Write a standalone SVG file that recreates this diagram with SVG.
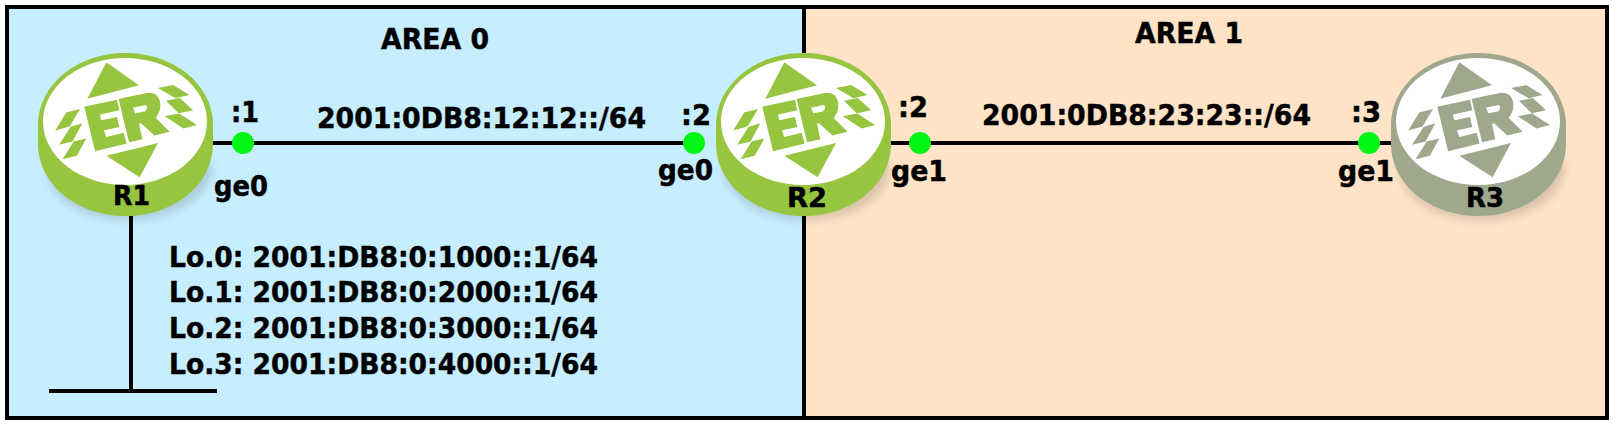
<svg xmlns="http://www.w3.org/2000/svg" width="1617" height="428" viewBox="0 0 1617 428">
<style>
text{font-family:"DejaVu Sans",Verdana,sans-serif;font-weight:700;font-size:28px;fill:#000;stroke:#000;stroke-width:.5}
.r{font-size:26px}
.dot{fill:#00f713}
.ln{stroke:#000;stroke-width:4;fill:none}
.g1{--c:#97c540}
.g2{--c:#9fa88c}
.body{fill:var(--c)}
.er{fill:var(--c);stroke:var(--c);stroke-width:5}
</style>
<defs>
<filter id="sh" x="-20%" y="-20%" width="140%" height="140%"><feGaussianBlur stdDeviation="4"/></filter>
<g id="router">
<path d="M8 110 C8 148 48 167 90 167 S174 148 174 110Z" fill="#333" opacity=".18" filter="url(#sh)"/>
<path class="body" d="M0 72C0 32 39 0 87.500 0S175 32 175 72V91C175 131 136 163 87.500 163S0 131 0 91Z"/>
<ellipse cx="87" cy="68.500" rx="82" ry="63.500" fill="#fff"/>
<g transform="scale(.33333) translate(-55 -70)">
<path class="body" d="M260 98 358 167 203 207ZM415 340 260 378 360 443Z"/>
<path class="er" d="M142 250 176 242 148 288 112 298ZM154 294 183 285 157 333 124 341ZM164 337 195 330 170 376 134 385Z"/>
<path class="er" d="M422 176 460 169 503 195 468 203ZM444 215 480 208 515 240 478 248ZM442 261 478 254 526 285 492 294Z"/>
<path class="er" d="M197 233 290 213 296 240 238 253 243 275 290 265 296 290 250 300 258 325 310 312 318 340 228 362Z"/>
<path class="er" fill-rule="evenodd" d="M300 210 385 192C420 190 432 230 405 265L445 305 405 315 365 278 355 280 365 327 330 335ZM337 232 345 254 375 248C388 243 388 222 375 224Z"/>
</g>
</g>
</defs>
<rect x="8" y="8" width="1601" height="412" fill="#999"/>
<rect x="7" y="7" width="797" height="411" fill="#c6eeff"/>
<rect x="804" y="7" width="803" height="411" fill="#fee3c6"/>
<path class="ln" d="M7 7H1607V418H7Z M804 7V418"/>
<g id="connectors">
<path class="ln" d="M213 143H700M891 143H1391M131 216V391M49 391H217"/>
</g>
<g id="R1" class="g1"><use href="#router" x="38" y="53"/><text class="r" x="113" y="205" textLength="37" lengthAdjust="spacingAndGlyphs">R1</text></g>
<g id="R2" class="g1"><use href="#router" x="716" y="53"/><text class="r" x="787" y="207" textLength="40" lengthAdjust="spacingAndGlyphs">R2</text></g>
<g id="R3" class="g2"><use href="#router" x="1391" y="53"/><text class="r" x="1466" y="207" textLength="38" lengthAdjust="spacingAndGlyphs">R3</text></g>
<g id="labels">
<circle class="dot" cx="243" cy="143" r="11"/><circle class="dot" cx="694" cy="143" r="11"/><circle class="dot" cx="920" cy="143" r="11"/><circle class="dot" cx="1369" cy="143" r="11"/>
<text x="381" y="49" textLength="108" lengthAdjust="spacingAndGlyphs">AREA 0</text>
<text x="1135" y="43" textLength="108" lengthAdjust="spacingAndGlyphs">AREA 1</text>
<text x="317" y="128" textLength="329" lengthAdjust="spacingAndGlyphs">2001:0DB8:12:12::/64</text>
<text x="982" y="125" textLength="329" lengthAdjust="spacingAndGlyphs">2001:0DB8:23:23::/64</text>
<text x="169" y="267" textLength="429" lengthAdjust="spacingAndGlyphs">Lo.0: 2001:DB8:0:1000::1/64</text>
<text x="169" y="302" textLength="429" lengthAdjust="spacingAndGlyphs">Lo.1: 2001:DB8:0:2000::1/64</text>
<text x="169" y="338" textLength="429" lengthAdjust="spacingAndGlyphs">Lo.2: 2001:DB8:0:3000::1/64</text>
<text x="169" y="374" textLength="429" lengthAdjust="spacingAndGlyphs">Lo.3: 2001:DB8:0:4000::1/64</text>
<text x="231" y="122" textLength="28" lengthAdjust="spacingAndGlyphs">:1</text>
<text x="681" y="125" textLength="30" lengthAdjust="spacingAndGlyphs">:2</text>
<text x="898" y="117" textLength="30" lengthAdjust="spacingAndGlyphs">:2</text>
<text x="1351" y="122" textLength="30" lengthAdjust="spacingAndGlyphs">:3</text>
<text x="214" y="196" textLength="54" lengthAdjust="spacingAndGlyphs">ge0</text>
<text x="658" y="180" textLength="55" lengthAdjust="spacingAndGlyphs">ge0</text>
<text x="891" y="181" textLength="56" lengthAdjust="spacingAndGlyphs">ge1</text>
<text x="1338" y="181" textLength="56" lengthAdjust="spacingAndGlyphs">ge1</text>
</g>
</svg>
